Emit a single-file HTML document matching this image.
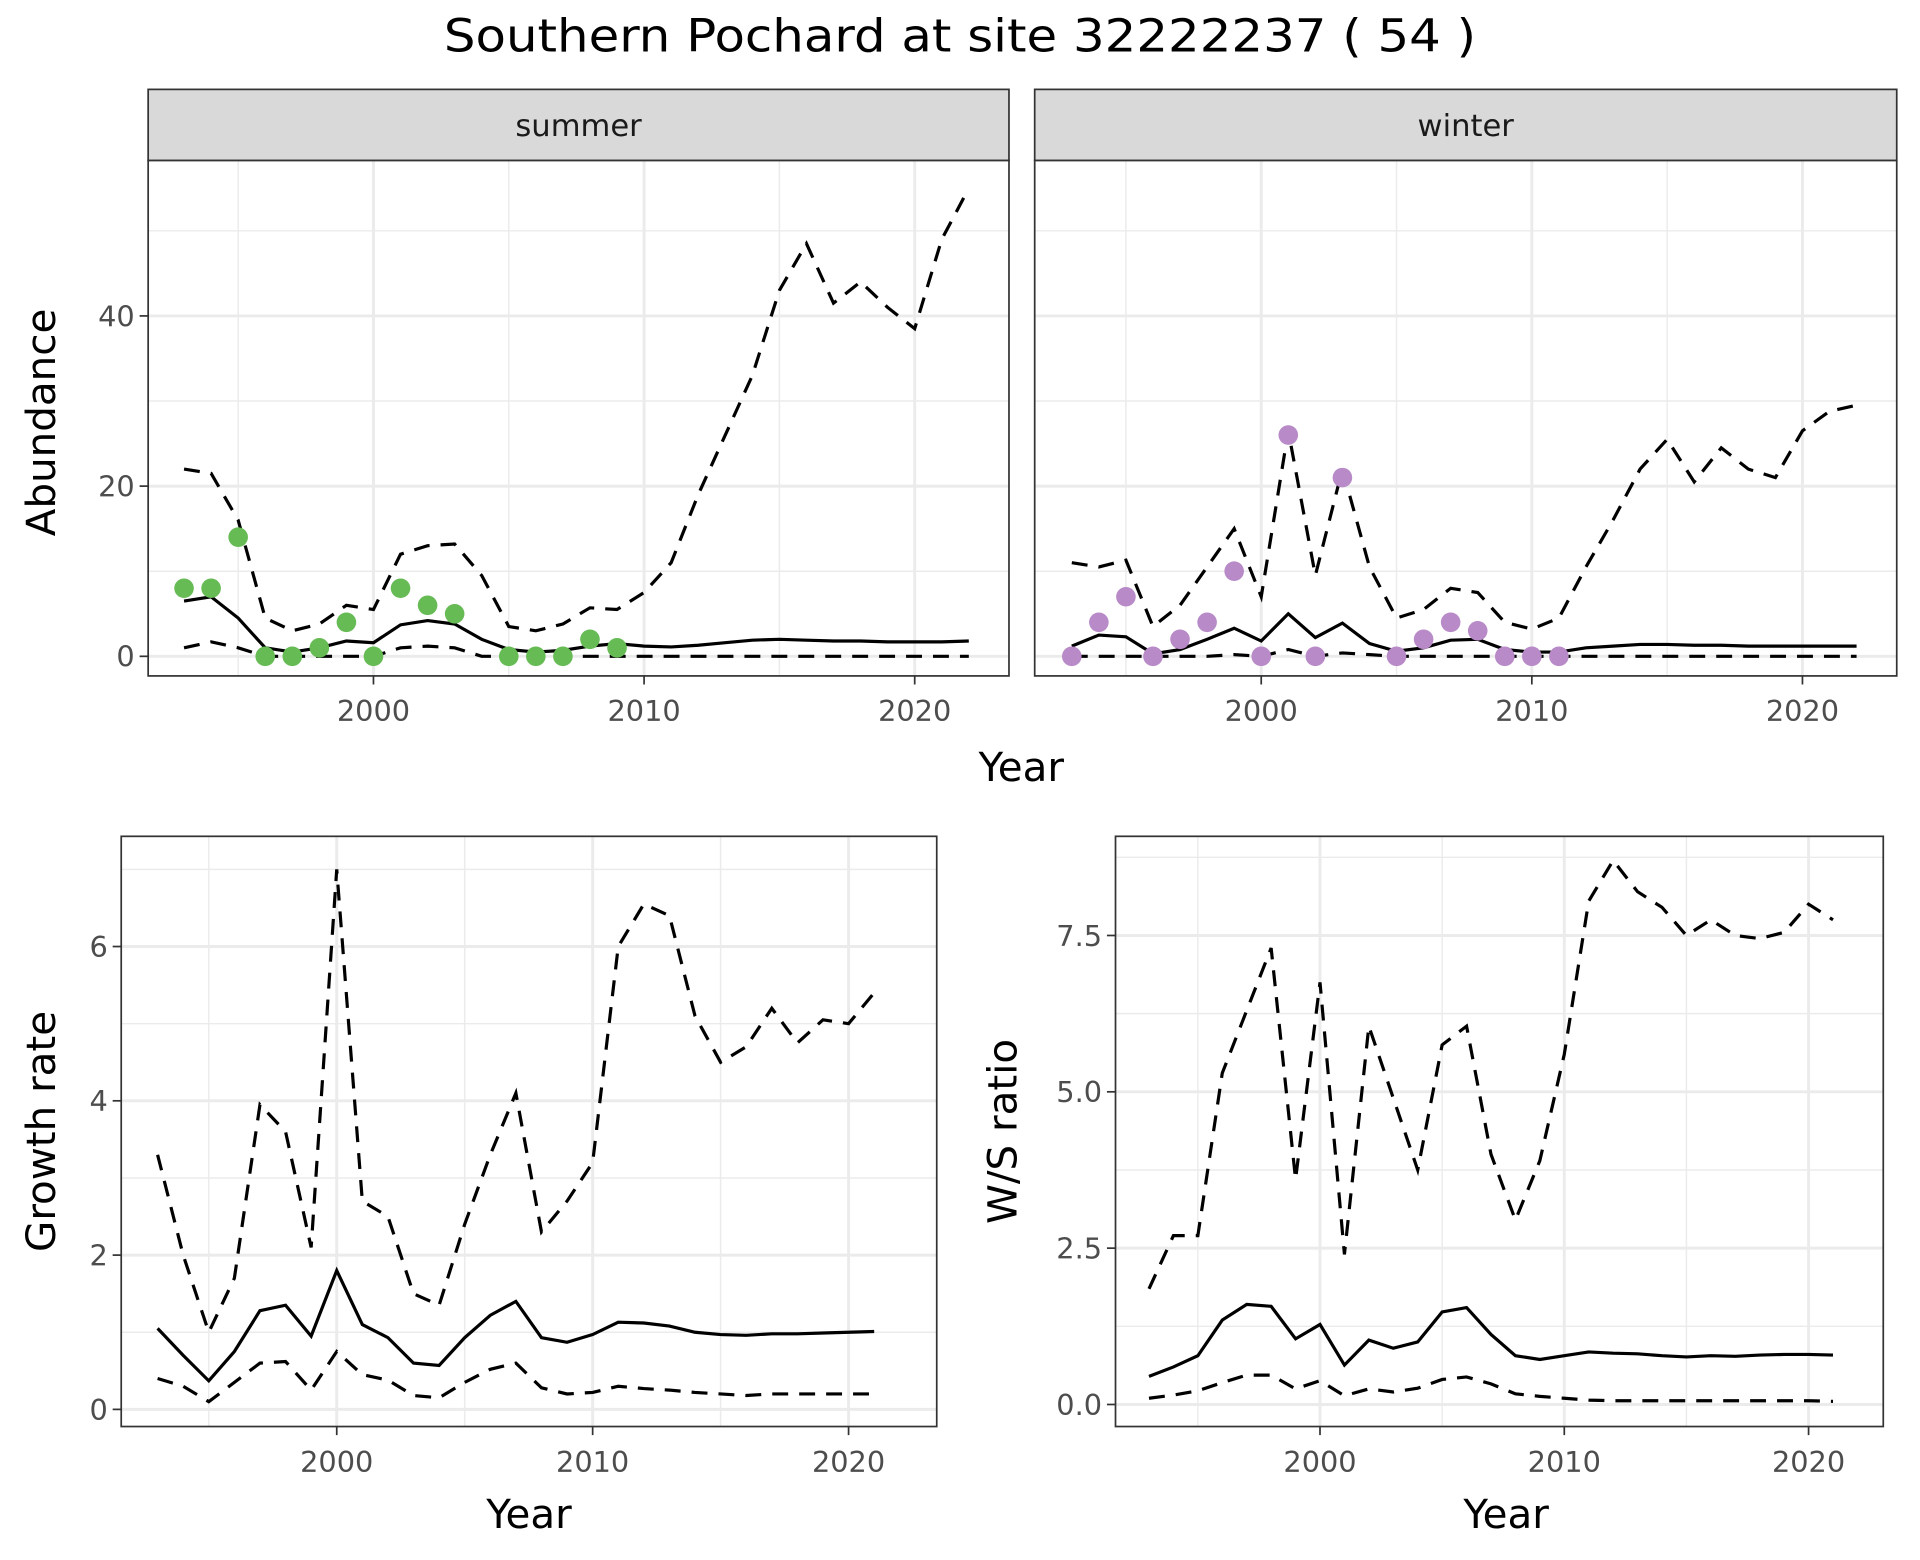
<!DOCTYPE html>
<html><head><meta charset="utf-8"><style>
html,body{margin:0;padding:0;background:#fff;}
svg{display:block;font-family:"DejaVu Sans","Liberation Sans",sans-serif;}
</style></head><body>
<svg id="chart" width="1920" height="1560" viewBox="0 0 1568 1274" preserveAspectRatio="none" xmlns="http://www.w3.org/2000/svg">
<text x="784" y="42" font-size="37" text-anchor="middle" fill="#000" textLength="843" lengthAdjust="spacingAndGlyphs">Southern Pochard at site 32222237 ( 54 )</text>
</svg>
<script>
const yearsTop=[1993,1994,1995,1996,1997,1998,1999,2000,2001,2002,2003,2004,2005,2006,2007,2008,2009,2010,2011,2012,2013,2014,2015,2016,2017,2018,2019,2020,2021,2022];
const summerMean=[6.5,7,4.5,1,0.5,1,1.8,1.6,3.7,4.2,3.8,2,0.8,0.5,0.7,1.2,1.5,1.2,1.1,1.3,1.6,1.9,2.0,1.9,1.8,1.8,1.7,1.7,1.7,1.8];
const summerUpper=[22,21.5,16,4.5,3,3.8,6,5.5,12,13,13.2,9.5,3.5,3,3.8,5.7,5.5,7.5,11,19,26,33,43,48.5,41.5,44,41,38.5,49,55];
const summerLower=[1,1.7,1,0,0,0,0,0,1,1.2,1,0,0,0,0,0,0,0,0,0,0,0,0,0,0,0,0,0,0,0];
const summerObsYears=[1993,1994,1995,1996,1997,1998,1999,2000,2001,2002,2003,2005,2006,2007,2008,2009];
const summerObs=[8,8,14,0,0,1,4,0,8,6,5,0,0,0,2,1];
const winterMean=[1.2,2.5,2.3,0.3,0.8,2,3.3,1.8,5,2.2,3.9,1.5,0.6,1,1.9,2,0.8,0.5,0.5,1,1.2,1.4,1.4,1.3,1.3,1.2,1.2,1.2,1.2,1.2];
const winterUpper=[11,10.5,11.3,3.5,6,10.5,15,7,26.5,9.5,22,10.5,4.5,5.5,8,7.5,4,3.2,4.5,10.5,16,22,25.5,20.5,24.5,22,21,26.5,28.8,29.5];
const winterLower=[0,0,0,0,0,0,0.2,0,0.8,0,0.4,0.2,0,0,0,0,0,0,0,0,0,0,0,0,0,0,0,0,0,0];
const winterObsYears=[1993,1994,1995,1996,1997,1998,1999,2000,2001,2002,2003,2005,2006,2007,2008,2009,2010,2011];
const winterObs=[0,4,7,0,2,4,10,0,26,0,21,0,2,4,3,0,0,0];
const yearsBot=[1993,1994,1995,1996,1997,1998,1999,2000,2001,2002,2003,2004,2005,2006,2007,2008,2009,2010,2011,2012,2013,2014,2015,2016,2017,2018,2019,2020,2021];
const growthMean=[1.05,0.7,0.37,0.75,1.28,1.35,0.95,1.8,1.1,0.93,0.6,0.57,0.93,1.22,1.4,0.93,0.87,0.97,1.13,1.12,1.08,1.0,0.97,0.96,0.98,0.98,0.99,1.0,1.01];
const growthUpper=[3.3,2.0,1.0,1.7,3.95,3.6,2.1,7.0,2.7,2.5,1.5,1.35,2.4,3.3,4.1,2.3,2.7,3.2,6.0,6.55,6.4,5.1,4.5,4.7,5.2,4.75,5.05,5.0,5.4];
const growthLower=[0.4,0.3,0.1,0.35,0.6,0.62,0.25,0.75,0.45,0.38,0.18,0.15,0.35,0.52,0.6,0.28,0.2,0.22,0.3,0.27,0.25,0.22,0.2,0.18,0.2,0.2,0.2,0.2,0.2];
const ratioMean=[0.45,0.6,0.78,1.35,1.6,1.57,1.05,1.28,0.63,1.03,0.9,1.0,1.48,1.55,1.12,0.78,0.72,0.78,0.84,0.82,0.81,0.78,0.76,0.78,0.77,0.79,0.8,0.8,0.79];
const ratioUpper=[1.85,2.7,2.7,5.3,6.3,7.3,3.6,6.75,2.4,6.05,4.9,3.75,5.75,6.05,4.0,2.95,3.9,5.6,8.05,8.7,8.2,7.95,7.5,7.75,7.5,7.45,7.55,8.0,7.75];
const ratioLower=[0.1,0.15,0.22,0.35,0.47,0.47,0.25,0.38,0.14,0.25,0.2,0.26,0.4,0.44,0.33,0.17,0.13,0.1,0.07,0.06,0.06,0.06,0.06,0.06,0.06,0.06,0.06,0.06,0.05];
const xTicks=[2000,2010,2020];
const abTicks=[0,20,40];
const grTicks=[0,2,4,6];
const wsTicks=[0,2.5,5,7.5];
const wsTickLabels=["0.0","2.5","5.0","7.5"];

const svg=document.getElementById('chart');
const NS='http://www.w3.org/2000/svg';
function mk(tag,attrs,parent){const e=document.createElementNS(NS,tag);for(const k in attrs)e.setAttribute(k,attrs[k]);(parent||svg).appendChild(e);return e;}

function panel(cfg){
  const g=mk('g',{});
  
  
  const X=v=>cfg.x0+(v-2000)*cfg.xs;
  const Y=v=>cfg.y0-v*cfg.ys;
  mk('rect',{x:cfg.l,y:cfg.t,width:cfg.r-cfg.l,height:cfg.b-cfg.t,fill:'#fff'},g);
  cfg.yMinor.forEach(v=>mk('line',{x1:cfg.l,x2:cfg.r,y1:Y(v),y2:Y(v),stroke:'#ebebeb','stroke-width':1.2},g));
  [1995,2005,2015].forEach(v=>mk('line',{x1:X(v),x2:X(v),y1:cfg.t,y2:cfg.b,stroke:'#ebebeb','stroke-width':1.2},g));
  cfg.yTicks.forEach(v=>mk('line',{x1:cfg.l,x2:cfg.r,y1:Y(v),y2:Y(v),stroke:'#ebebeb','stroke-width':2.4},g));
  xTicks.forEach(v=>mk('line',{x1:X(v),x2:X(v),y1:cfg.t,y2:cfg.b,stroke:'#ebebeb','stroke-width':2.4},g));
  const line=(ys,dash,name)=>{
    const p=mk('polyline',{points:cfg.years.map((yr,i)=>X(yr)+','+Y(ys[i])).join(' '),fill:'none',stroke:'#000','stroke-width':2.6,'stroke-dasharray':dash?'13,9':'none'},g);
    
    
  };
  line(cfg.upper,true,'upper-bound-line');
  line(cfg.lower,true,'lower-bound-line');
  line(cfg.mean,false,'mean-line');
  if(cfg.obs){cfg.obsYears.forEach((yr,i)=>{
    const c=mk('circle',{cx:X(yr),cy:Y(cfg.obs[i]),r:8,fill:cfg.color},g);
    
    
  });}
  mk('rect',{x:cfg.l,y:cfg.t,width:cfg.r-cfg.l,height:cfg.b-cfg.t,fill:'none',stroke:'#333','stroke-width':1.4},g);
  xTicks.forEach(v=>{
    mk('line',{x1:X(v),x2:X(v),y1:cfg.b,y2:cfg.b+7,stroke:'#333','stroke-width':1.4},g);
    const t=mk('text',{x:X(v),y:cfg.b+37,'font-size':23.5,'text-anchor':'middle',fill:'#4d4d4d'},g);t.textContent=v;
    
  });
  if(cfg.showY){cfg.yTicks.forEach((v,i)=>{
    mk('line',{x1:cfg.l-7,x2:cfg.l,y1:Y(v),y2:Y(v),stroke:'#333','stroke-width':1.4},g);
    const t=mk('text',{x:cfg.l-11,y:Y(v)+8.5,'font-size':23.5,'text-anchor':'end',fill:'#4d4d4d'},g);t.textContent=cfg.yLabels?cfg.yLabels[i]:v;
    
  });}
  if(cfg.strip){
    const s=mk('rect',{x:cfg.l,y:73,width:cfg.r-cfg.l,height:cfg.t-73,fill:'#d9d9d9',stroke:'#333','stroke-width':1.4},g);
    
    const t=mk('text',{x:(cfg.l+cfg.r)/2,y:111,'font-size':25,'text-anchor':'middle',fill:'#1a1a1a'},g);t.textContent=cfg.strip;
    
  }
}
function label(txt,x,y,rot,name){
  const t=mk('text',{x:x,y:y,'font-size':33,'text-anchor':'middle',fill:'#000',transform:rot?`rotate(-90 ${x} ${y})`:''});
  t.textContent=txt;
}
panel({name:'summer-panel',l:121,r:824,t:131,b:552,x0:305,xs:22.1,y0:536,ys:6.95,years:yearsTop,mean:summerMean,upper:summerUpper,lower:summerLower,obs:summerObs,obsYears:summerObsYears,color:'#66bb55',yTicks:abTicks,yMinor:[10,30,50],showY:true,strip:'summer'});
panel({name:'winter-panel',l:845,r:1549,t:131,b:552,x0:1030,xs:22.1,y0:536,ys:6.95,years:yearsTop,mean:winterMean,upper:winterUpper,lower:winterLower,obs:winterObs,obsYears:winterObsYears,color:'#b88ac8',yTicks:abTicks,yMinor:[10,30,50],showY:false,strip:'winter'});
panel({name:'growth-rate-panel',l:99,r:765,t:683,b:1165,x0:275,xs:20.9,y0:1151,ys:63,years:yearsBot,mean:growthMean,upper:growthUpper,lower:growthLower,yTicks:grTicks,yMinor:[1,3,5,7],showY:true});
panel({name:'ws-ratio-panel',l:911,r:1538,t:683,b:1165,x0:1078,xs:19.95,y0:1147,ys:51.07,years:yearsBot,mean:ratioMean,upper:ratioUpper,lower:ratioLower,yTicks:wsTicks,yLabels:wsTickLabels,yMinor:[1.25,3.75,6.25,8.75],showY:true});
label('Abundance',45,345,true,'y-axis-title-abundance');
label('Year',834,638,false,'x-axis-title-top');
label('Growth rate',45,924,true,'y-axis-title-growth');
label('W/S ratio',830,924,true,'y-axis-title-ratio');
label('Year',432,1248,false,'x-axis-title-growth');
label('Year',1230,1248,false,'x-axis-title-ratio');
</script>
</body></html>
